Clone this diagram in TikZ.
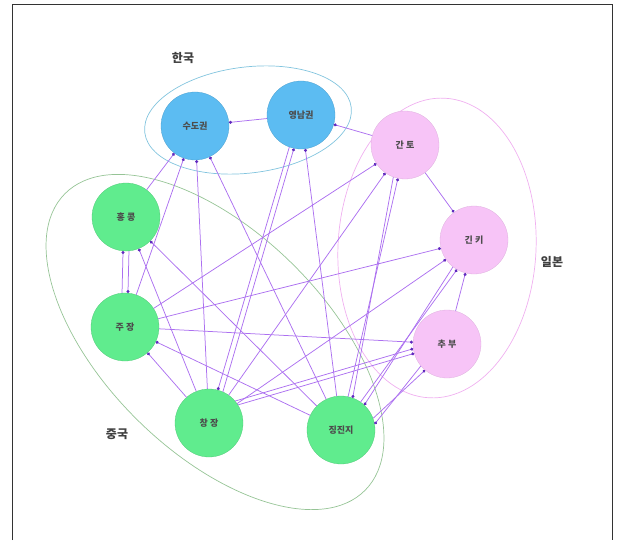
\documentclass[tikz,border=0pt]{standalone}
\usepackage{fontspec}
\setmainfont{Noto Sans CJK KR}
\usetikzlibrary{arrows.meta}

\definecolor{korblue}{RGB}{92,188,242}
\definecolor{chngreen}{RGB}{96,236,142}
\definecolor{jappink}{RGB}{247,196,247}
\definecolor{korline}{RGB}{130,196,222}
\definecolor{chnline}{RGB}{150,196,150}
\definecolor{japline}{RGB}{240,176,240}
\definecolor{flowline}{RGB}{172,112,240}
\definecolor{flowtip}{RGB}{96,40,190}

\tikzset{
  region/.style={circle, minimum size=68pt, inner sep=0pt,
    font=\fontsize{9}{9}\selectfont\bfseries, text=black!70},
  kor/.style={region, fill=korblue, draw=korblue!85!black, line width=0.3pt},
  chn/.style={region, fill=chngreen, draw=chngreen!85!black, line width=0.3pt},
  jap/.style={region, fill=jappink, draw=jappink!90!black, line width=0.3pt},
  flow/.style={draw=flowline, line width=0.75pt,
    -{Circle[length=3pt, color=flowtip]}},
  grouplabel/.style={font=\fontsize{12}{12}\selectfont\bfseries, text=black!75}
}

\begin{document}
\begin{tikzpicture}[x=1pt,y=-1pt]
\useasboundingbox (0,0) rectangle (620,540);
\draw[black!80, line width=0.6pt] (12,540) |- (612,4) -- (612,540);

% groups
\draw[korline, line width=0.7pt] (248,120) ellipse [x radius=104, y radius=53, rotate=7];
\draw[japline, line width=0.7pt] (437,248) ellipse [x radius=99, y radius=150, rotate=-3];
\draw[chnline, line width=0.7pt] (215,342) ellipse [x radius=211, y radius=110, rotate=-44.6];

\node[grouplabel] (lkor) at (183,58) {한국};
\node[grouplabel] (ljap) at (552,262) {일본};
\node[grouplabel] (lchn) at (117,434) {중국};

% regions
\node[kor] (sudo) at (195,126) {수도권};
\node[kor] (yeong) at (301,115) {영남권};
\node[jap] (kanto) at (405,145) {간 토};
\node[jap] (kinki) at (474,240) {긴 키};
\node[jap] (chubu) at (447,344) {추 부};
\node[chn] (jing) at (341,430) {징진지};
\node[chn] (chang) at (209,423) {창 장};
\node[chn] (zhu) at (125,327) {주 장};
\node[chn] (hong) at (126,217) {홍 콩};

% flows
\draw[flow] (yeong) -- (sudo);
\draw[flow] (kanto) -- (yeong);
\draw[flow] (kanto) -- (kinki);
\draw[flow] (chubu) -- (kinki);
\draw[flow] (hong) -- (sudo);
\draw[flow] (hong.275) -- (zhu.85);
\draw[flow] (zhu.95) -- (hong.265);
\draw[flow] (zhu) -- (sudo);
\draw[flow] (zhu) -- (kanto);
\draw[flow] (zhu) -- (kinki);
\draw[flow] (zhu) -- (chubu);
\draw[flow] (chang) -- (zhu);
\draw[flow] (jing) -- (zhu);
\draw[flow] (chang) -- (hong);
\draw[flow] (jing) -- (hong);
\draw[flow] (chang) -- (sudo);
\draw[flow] (yeong.250) -- (chang.75);
\draw[flow] (chang.66) -- (yeong.258);
\draw[flow] (chang) -- (kanto);
\draw[flow] (chang) -- (kinki);
\draw[flow] (chang.40) -- (chubu.188);
\draw[flow] (chang.32) -- (chubu.196);
\draw[flow] (jing) -- (sudo);
\draw[flow] (jing) -- (yeong);
\draw[flow] (jing.78) -- (kanto.258);
\draw[flow] (kanto.250) -- (jing.70);
\draw[flow] (jing.55) -- (kinki.240);
\draw[flow] (kinki.232) -- (jing.47);
\draw[flow] (jing.20) -- (chubu.230);
\draw[flow] (chubu.220) -- (jing.10);
\end{tikzpicture}
\end{document}
